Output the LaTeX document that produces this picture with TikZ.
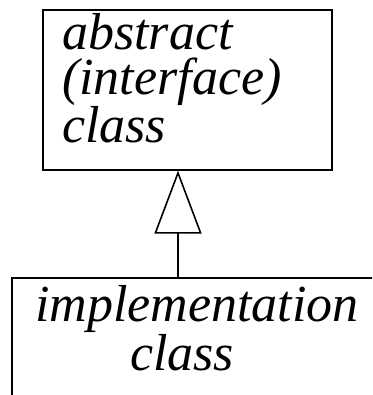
\documentclass[tikz,border=0pt]{standalone}
\usepackage{fontspec}
\setmainfont{Liberation Serif}
\usetikzlibrary{arrows.meta}
\tikzset{
  classbox/.style={draw, line width=1.6pt, rectangle, inner sep=0pt},
  classname/.style={font=\fontsize{52}{45}\selectfont\itshape, inner sep=0pt},
  inherits/.style={-{Triangle[open, length=63pt, width=47pt]}, line width=1.6pt},
}
\begin{document}
\begin{tikzpicture}[x=1pt,y=-1pt]
  \useasboundingbox (0,0) rectangle (372,395);
  \clip (0,0) rectangle (372,395);
  % abstract class on top
  \node[classbox, minimum width=289pt, minimum height=160pt, anchor=north west] (abstract) at (42,9) {};
  \node[classname, align=left, anchor=base west] (abstractname) at (62,143) {abstract\\(interface)\\class};
  % implementation below, cut off at the edge
  \node[classbox, minimum width=400pt, minimum height=200pt, anchor=north west] (impl) at (11,277) {};
  \node[classname, align=center, anchor=base] (implname) at (197,370) {implementation\\class\hspace*{30pt}};
  \coordinate (joint) at (178,277);
  \draw[inherits] (joint) -- (joint |- abstract.south);
\end{tikzpicture}
\end{document}
